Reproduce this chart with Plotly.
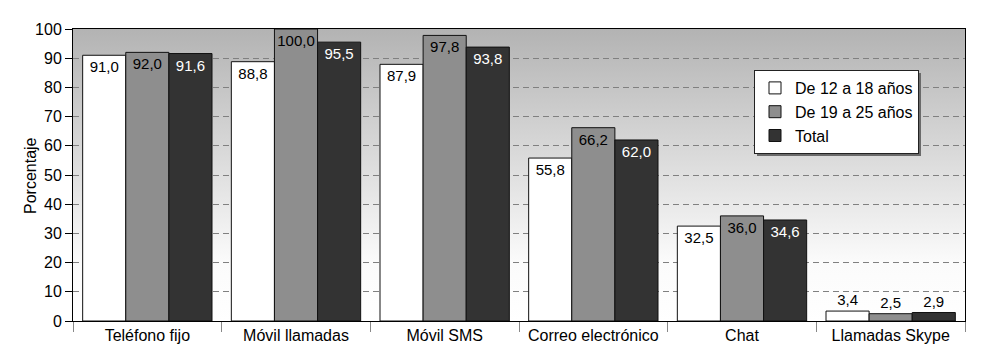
import plotly.graph_objects as go
import urllib.parse

categories = ["Teléfono fijo", "Móvil llamadas", "Móvil SMS", "Correo electrónico", "Chat", "Llamadas Skype"]
series_names = ["De 12 a 18 años", "De 19 a 25 años", "Total"]
v_12_18 = [91.0, 88.8, 87.9, 55.8, 32.5, 3.4]
v_19_25 = [92.0, 100.0, 97.8, 66.2, 36.0, 2.5]
v_total = [91.6, 95.5, 93.8, 62.0, 34.6, 2.9]
y_ticks = [0, 10, 20, 30, 40, 50, 60, 70, 80, 90, 100]
y_title = "Porcentaje"

colors = ["#ffffff", "#8e8e8e", "#333333"]
inside_text_colors = ["#000000", "#000000", "#ffffff"]

fig = go.Figure()
for name, vals, col, tcol in zip(series_names, [v_12_18, v_19_25, v_total], colors, inside_text_colors):
    fig.add_trace(go.Bar(
        name=name, x=categories, y=vals,
        marker=dict(color=col, line=dict(color="#111111", width=1)),
        texttemplate="%{y:.1f}",
        textposition=["inside" if v > 10 else "outside" for v in vals],
        insidetextanchor="end",
        textangle=0,
        insidetextfont=dict(color=tcol, size=15, family="Liberation Sans"),
        outsidetextfont=dict(color="#000000", size=15, family="Liberation Sans"),
        cliponaxis=False,
    ))

svg = ('<svg xmlns="http://www.w3.org/2000/svg" width="100" height="100" preserveAspectRatio="none">'
       '<defs><linearGradient id="g" x1="0" y1="0" x2="0" y2="1">'
       '<stop offset="0" stop-color="#b3b3b3"/><stop offset="0.8" stop-color="#fbfbfb"/>'
       '<stop offset="1" stop-color="#ffffff"/>'
       '</linearGradient></defs><rect width="100" height="100" fill="url(#g)"/></svg>')
img_src = "data:image/svg+xml;charset=utf-8," + urllib.parse.quote(svg)

PL, PT, PW, PH = 73, 29, 892, 292


def px(x):
    return (x - PL) / PW


def py(y):
    return (PT + PH - y) / PH


fig.update_layout(
    width=1000, height=353,
    margin=dict(l=PL, r=1000 - PL - PW, t=PT, b=353 - PT - PH, autoexpand=False),
    paper_bgcolor="#ffffff",
    plot_bgcolor="rgba(0,0,0,0)",
    separators=",.",
    barmode="group",
    bargap=0.13,
    bargroupgap=0,
    font=dict(family="Liberation Sans", size=16, color="#000000"),
    uniformtext=dict(minsize=15, mode="show"),
    images=[dict(source=img_src, xref="paper", yref="paper", x=0, y=1, sizex=1, sizey=1,
                 sizing="stretch", xanchor="left", yanchor="top", layer="below")],
    legend=dict(x=px(754), y=py(70), xanchor="left", yanchor="top",
                bgcolor="#ffffff", bordercolor="#222222", borderwidth=1,
                font=dict(size=16, family="Liberation Sans"), tracegroupgap=0),
    shapes=[dict(type="rect", xref="paper", yref="paper", layer="above",
                 x0=px(757), x1=px(921), y0=py(156), y1=py(73),
                 fillcolor="#6a6a6a", line=dict(width=0))],
    annotations=[dict(text=y_title, xref="paper", yref="paper", x=0, y=py(176),
                      xanchor="center", yanchor="middle", xshift=30 - PL, textangle=-90,
                      showarrow=False, font=dict(size=16))],
    xaxis=dict(showline=True, linecolor="#000000", linewidth=1, mirror=True,
               ticks="outside", tickson="boundaries", ticklen=10, tickcolor="#888888",
               tickfont=dict(size=16), showgrid=False, automargin=False),
    yaxis=dict(range=[0, 100], tickvals=y_ticks, showline=True, linecolor="#000000", linewidth=1,
               mirror=True, ticks="outside", ticklen=7, tickcolor="#000000",
               showgrid=True, gridcolor="#808080", griddash="6px,4px", gridwidth=1,
               zeroline=False, tickfont=dict(size=16), automargin=False),
)

fig.write_html("out.html", post_script="document.body.style.margin='0';",
               config={"displayModeBar": False})
